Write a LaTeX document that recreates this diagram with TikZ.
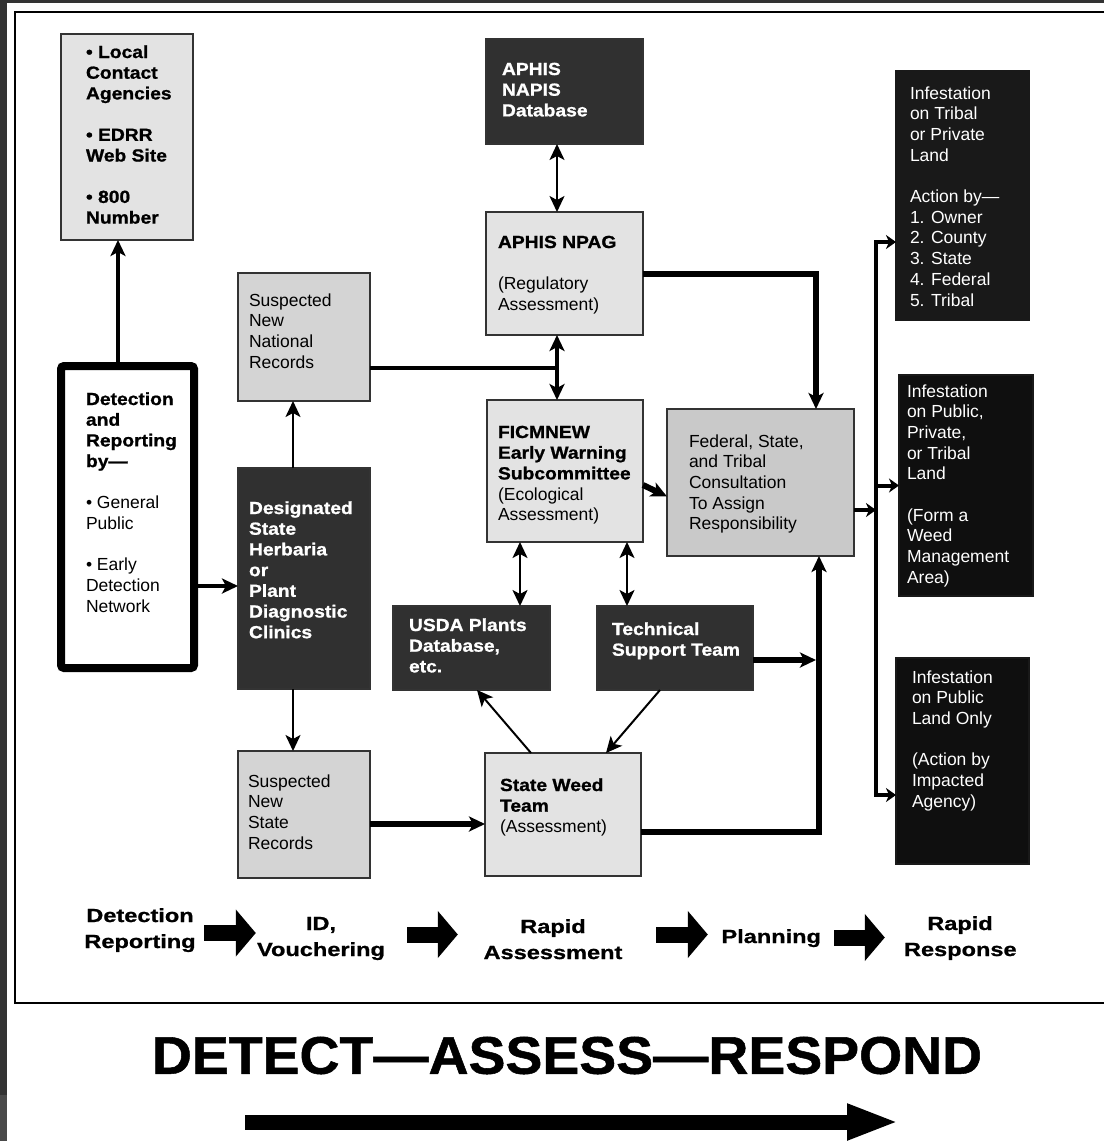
\documentclass[tikz,border=0pt]{standalone}
\usepackage{fontspec}
\usepackage{graphicx}
\setmainfont{Liberation Sans}[BoldFeatures={FakeStretch=1.1,FakeBold=1}]
\newfontfamily\stagefont{Liberation Sans}[BoldFeatures={FakeStretch=1.24,FakeBold=1}]
\usetikzlibrary{arrows.meta}
\newcommand{\boxtext}[5]{\parbox[t][#2][t]{#1}{\raggedright
	\leftskip=#4\relax \rightskip=-30pt plus 1fil\relax
	\hyphenpenalty=10000 \rule{0pt}{#3}#5}}

\begin{document}
\begin{tikzpicture}[x=1pt, y=-1pt,
	>={Stealth[length=16pt,width=15pt,inset=4pt]},
	box/.style={draw=black!80, line width=1.5pt, inner sep=0pt, outer sep=0pt,
		anchor=north west, font=\fontsize{17.5pt}{20.7pt}\selectfont},
	pale/.style={box, fill=black!11},
	grey/.style={box, fill=black!17},
	ash/.style={box, fill=black!21},
	dark/.style={box, fill=black!81, text=white},
	night/.style={box, draw=black!90, fill=black!94, text=white},
	wire/.style={line width=2pt},
	rod/.style={line width=4pt},
	beam/.style={line width=6pt},
	small/.style={>={Stealth[length=10pt,width=14pt,inset=3pt]}},
	stage/.style={anchor=base, align=center, inner sep=0pt,
		font={\stagefont\bfseries\fontsize{19pt}{26pt}\selectfont}},
	block/.style={line width=16pt, -{Triangle[length=20pt,width=46pt]}}]
	\useasboundingbox (0,0) rectangle (1104,1141);
	\fill [ black!80 ] (0,0) rectangle (1104,1141);
	\fill [ white ] (7,3) rectangle (1104,1141);
	\fill [ black!71 ] (0,1095) rectangle (7,1141);
	\draw [ line width=2.5pt ] (1104,12) -- (15,12) -- (15,1003) -- (1104,1003);

	\node [ pale ] (1) at (61,34)
		{\boxtext{132pt}{206pt}{24pt}{25pt}{\bfseries
			• Local\\Contact\\Agencies\\[20.7pt]
			• EDRR\\Web Site\\[20.7pt]
			• 800\\Number}};
	\node [ box, draw=black, fill=white, line width=8pt, rounded corners=3pt ] (2) at (61,366)
		{\boxtext{133pt}{302pt}{39pt}{25pt}{{\bfseries
			Detection\\and\\Reporting\\by—}\\[20.7pt]
			• General\\Public\\[20.7pt]
			• Early\\Detection\\Network}};
	\node [ grey ] (3) at (238,273)
		{\boxtext{132pt}{128pt}{33pt}{11pt}{Suspected\\New\\National\\Records}};
	\node [ dark ] (4) at (238,468)
		{\boxtext{132pt}{221pt}{46pt}{11pt}{\bfseries
			Designated\\State\\Herbaria\\or\\Plant\\Diagnostic\\Clinics}};
	\node [ grey ] (5) at (238,751)
		{\boxtext{132pt}{127pt}{36pt}{10pt}{Suspected\\New\\State\\Records}};
	\node [ dark ] (6) at (486,39)
		{\boxtext{157pt}{105pt}{36pt}{16pt}{\bfseries APHIS\\NAPIS\\Database}};
	\node [ pale ] (7) at (486,212)
		{\boxtext{157pt}{123pt}{36pt}{12pt}{{\bfseries APHIS NPAG}\\[20.7pt]
			(Regulatory\\Assessment)}};
	\node [ pale ] (8) at (487,400)
		{\boxtext{156pt}{142pt}{38pt}{11pt}{{\bfseries
			FICMNEW\\Early Warning\\Subcommittee}\\(Ecological\\Assessment)}};
	\node [ ash ] (9) at (667,409)
		{\boxtext{187pt}{147pt}{38pt}{22pt}{Federal, State,\\and Tribal\\
			Consultation\\To Assign\\Responsibility}};
	\node [ dark ] (10) at (393,606)
		{\boxtext{157pt}{84pt}{25pt}{16pt}{\bfseries USDA Plants\\Database,\\etc.}};
	\node [ dark ] (11) at (597,606)
		{\boxtext{156pt}{84pt}{29pt}{15pt}{\bfseries Technical\\Support Team}};
	\node [ pale ] (12) at (485,753)
		{\boxtext{156pt}{123pt}{38pt}{15pt}{{\bfseries State Weed\\Team}\\(Assessment)}};
	\node [ night, fill=black!90 ] (13) at (896,71)
		{\boxtext{133pt}{249pt}{28pt}{14pt}{Infestation\\on Tribal\\or Private\\Land\\[20.7pt]
			Action by—\\1. Owner\\2. County\\3. State\\4. Federal\\5. Tribal}};
	\node [ night ] (14) at (899,375)
		{\boxtext{134pt}{221pt}{22pt}{8pt}{Infestation\\on Public,\\Private,\\or Tribal\\Land\\[20.7pt]
			(Form a\\Weed\\Management\\Area)}};
	\node [ night ] (15) at (896,658)
		{\boxtext{133pt}{206pt}{25pt}{16pt}{Infestation\\on Public\\Land Only\\[20.7pt]
			(Action by\\Impacted\\Agency)}};

	\draw [ rod, -> ] ([xshift=-9.5pt,yshift=4pt]2.north) to ([xshift=-9pt]1.south);
	\draw [ rod, -> ] ([xshift=4pt,yshift=-69pt]2.east) to ([yshift=-7.5pt]4.west);
	\draw [ wire, -> ] ([xshift=-11pt]4.north) to ([xshift=-11pt]3.south);
	\draw [ wire, -> ] ([xshift=-11pt]4.south) to ([xshift=-11pt]5.north);
	\draw [ rod ] ([yshift=-31pt]3.east) -- ++(187,0);
	\draw [ wire, <-> ] ([xshift=-7.5pt]6.south) to ([xshift=-7.5pt]7.north);
	\draw [ rod, <-> ] ([xshift=-7.5pt]7.south) to ([xshift=-8pt]8.north);
	\draw [ beam, -> ] (7.east) -| ([xshift=55.5pt]9.north);
	\draw [ beam, -> ] ([yshift=-14pt]8.east) to ([yshift=-14pt]9.west);
	\draw [ wire, <-> ] ([xshift=-45pt]8.south) to ([xshift=48.5pt]10.north);
	\draw [ wire, <-> ] ([xshift=62pt]8.south) to ([xshift=-48pt]11.north);
	\draw [ beam, -> ] ([yshift=-12pt]11.east) -- ++(63,0);
	\draw [ wire, -> ] ([xshift=-32pt]12.north) to ([xshift=5.5pt]10.south);
	\draw [ wire, -> ] ([xshift=-15pt]11.south) to ([xshift=43pt]12.north);
	\draw [ beam, -> ] ([yshift=-9.5pt]5.east) to ([yshift=-9.5pt]12.west);
	\draw [ beam, -> ] ([yshift=-17.5pt]12.east) -| ([xshift=58.5pt]9.south);

	\coordinate (v) at (876,485.5);
	\draw [ rod, small, -> ] ([yshift=-27.5pt]9.east) -- ++(22,0);
	\draw [ rod, small, -> ] (v) |- ([yshift=-46.5pt]13.west);
	\draw [ rod, small, -> ] (v) to (14.west);
	\draw [ rod, small, -> ] (v) |- ([yshift=-34pt]15.west);

	\node [ stage, text width=112pt ] (16) at (140,922) {Detection\\Reporting};
	\node [ stage, text width=130pt ] (17) at (321,930) {ID,\\Vouchering};
	\node [ stage, text width=141pt ] (18) at (553,933) {Rapid\\Assessment};
	\node [ stage, text width=99pt ] (19) at (771,943) {Planning};
	\node [ stage, text width=112pt ] (20) at (960,930) {Rapid\\Response};
	\draw [ block, shorten <=8pt ] (16.east |- 0,933) to (17.west |- 0,933);
	\draw [ block, shorten <=21pt, shorten >=24.5pt ] (17.east |- 0,934.5) to (18.west |- 0,934.5);
	\draw [ block, shorten <=32.5pt, shorten >=13.5pt ] (18.east |- 0,934.5) to (19.west |- 0,934.5);
	\draw [ block, shorten <=13.5pt, shorten >=19pt ] (19.east |- 0,937.5) to (20.west |- 0,937.5);

	\node [ inner sep=0pt ] (21) at (567,1055.5)
		{\resizebox{830pt}{37pt}{\bfseries DETECT—ASSESS—RESPOND}};
	\coordinate (22) at (245,1122);
	\coordinate (23) at (899,1122);
	\draw [ line width=15pt, -{Triangle[length=52pt,width=33pt]} ] (22) to (23);
\end{tikzpicture}
\end{document}
